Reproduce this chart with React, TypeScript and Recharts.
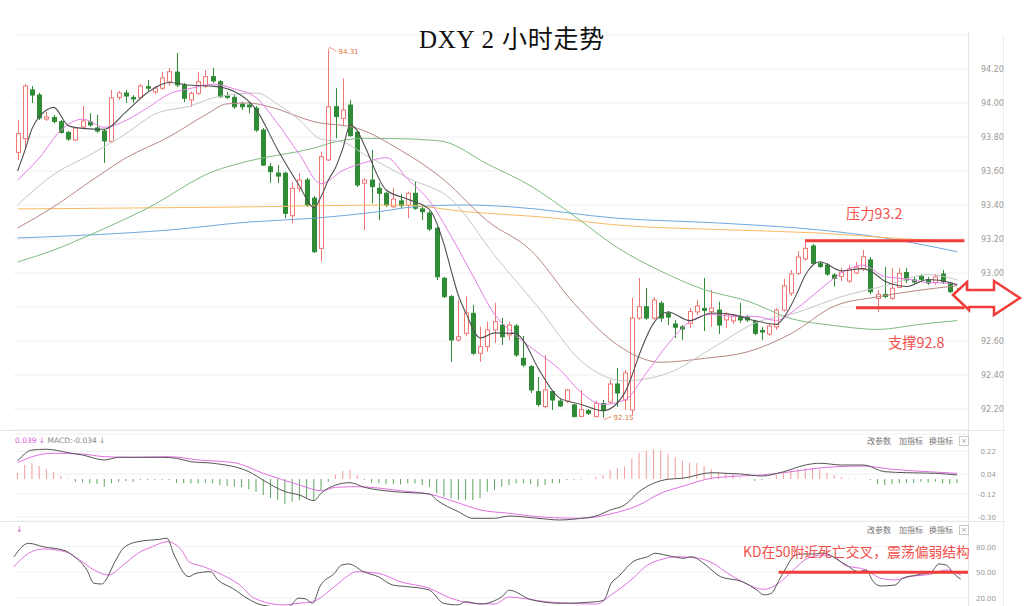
import { Bar, CartesianGrid, Cell, ComposedChart, Line, ReferenceLine, XAxis, YAxis } from 'recharts';

const UP = '#f07674';
const DOWN = '#2f8b36';
const MARK_RED = '#f03c3a';
const NOTE_RED = '#f2504c';

// [open, high, low, close] for each 2-hour bar
const candles = [
  [93.71, 93.9, 93.665, 93.82], [93.79, 94.11, 93.73, 94.1], [94.077, 94.1, 94.0, 94.047], [94.047, 94.06, 93.9, 93.912],
  [93.906, 93.947, 93.894, 93.918], [93.915, 93.93, 93.88, 93.891], [93.89, 93.9, 93.82, 93.827], [93.827, 93.835, 93.777, 93.788],
  [93.782, 93.859, 93.776, 93.853], [93.859, 93.982, 93.847, 93.894], [93.888, 93.94, 93.86, 93.871], [93.853, 93.93, 93.824, 93.835],
  [93.835, 93.847, 93.647, 93.777], [93.773, 94.077, 93.765, 94.03], [94.033, 94.071, 94.018, 94.059], [94.059, 94.077, 94.0, 94.041],
  [94.033, 94.047, 94.0, 94.024], [94.033, 94.112, 94.024, 94.1], [94.096, 94.135, 94.067, 94.087], [94.065, 94.1, 94.053, 94.088],
  [94.087, 94.182, 94.077, 94.147], [94.124, 94.206, 94.1, 94.184], [94.182, 94.294, 94.094, 94.106], [94.106, 94.118, 94.006, 94.028],
  [94.018, 94.067, 93.977, 94.057], [94.057, 94.184, 94.047, 94.125], [94.1, 94.194, 94.088, 94.155], [94.155, 94.206, 94.118, 94.13],
  [94.125, 94.135, 94.03, 94.037], [94.041, 94.065, 94.024, 94.033], [94.033, 94.047, 93.965, 93.978], [93.994, 94.008, 93.959, 93.978],
  [93.988, 94.006, 93.94, 93.977], [93.969, 93.982, 93.83, 93.841], [93.841, 93.853, 93.63, 93.635], [93.625, 93.647, 93.53, 93.596],
  [93.588, 93.635, 93.53, 93.57], [93.587, 93.596, 93.322, 93.351], [93.337, 93.537, 93.293, 93.498], [93.498, 93.588, 93.478, 93.547],
  [93.547, 93.559, 93.388, 93.4], [93.44, 93.453, 93.118, 93.125], [93.145, 93.714, 93.067, 93.684], [93.665, 94.31, 93.66, 93.978],
  [93.978, 94.087, 93.792, 93.92], [93.91, 94.145, 93.871, 93.959], [93.988, 94.018, 93.802, 93.808], [93.828, 93.841, 93.506, 93.518],
  [93.528, 93.557, 93.253, 93.547], [93.547, 93.724, 93.41, 93.508], [93.498, 93.53, 93.312, 93.469], [93.469, 93.478, 93.388, 93.4],
  [93.39, 93.5, 93.382, 93.435], [93.424, 93.465, 93.382, 93.396], [93.4, 93.478, 93.322, 93.469], [93.469, 93.537, 93.371, 93.381],
  [93.377, 93.39, 93.312, 93.361], [93.353, 93.365, 93.247, 93.259], [93.263, 93.273, 92.959, 92.978], [92.969, 92.977, 92.853, 92.861],
  [92.861, 92.871, 92.478, 92.606], [92.606, 92.841, 92.596, 92.625], [92.645, 92.861, 92.63, 92.765], [92.763, 92.812, 92.518, 92.528],
  [92.528, 92.684, 92.478, 92.567], [92.567, 92.714, 92.537, 92.665], [92.665, 92.824, 92.588, 92.714], [92.694, 92.735, 92.577, 92.625],
  [92.636, 92.712, 92.606, 92.694], [92.688, 92.7, 92.506, 92.518], [92.498, 92.63, 92.447, 92.459], [92.449, 92.459, 92.294, 92.312],
  [92.302, 92.388, 92.214, 92.227], [92.214, 92.518, 92.204, 92.312], [92.302, 92.312, 92.194, 92.253], [92.247, 92.259, 92.212, 92.218],
  [92.247, 92.318, 92.235, 92.312], [92.224, 92.23, 92.155, 92.155], [92.157, 92.312, 92.152, 92.196], [92.19, 92.2, 92.165, 92.175],
  [92.155, 92.247, 92.153, 92.234], [92.232, 92.253, 92.15, 92.19], [92.241, 92.371, 92.23, 92.347], [92.347, 92.441, 92.212, 92.294],
  [92.253, 92.43, 92.194, 92.412], [92.194, 92.853, 92.16, 92.735], [92.735, 92.971, 92.724, 92.802], [92.802, 92.912, 92.724, 92.735],
  [92.735, 92.859, 92.724, 92.841], [92.822, 92.835, 92.712, 92.735], [92.763, 92.777, 92.694, 92.741], [92.7, 92.724, 92.618, 92.681],
  [92.683, 92.694, 92.606, 92.671], [92.704, 92.794, 92.677, 92.773], [92.771, 92.841, 92.753, 92.806], [92.791, 92.971, 92.659, 92.78],
  [92.773, 92.9, 92.683, 92.794], [92.782, 92.831, 92.641, 92.694], [92.724, 92.771, 92.677, 92.759], [92.718, 92.759, 92.7, 92.747],
  [92.741, 92.824, 92.706, 92.724], [92.741, 92.753, 92.712, 92.724], [92.714, 92.724, 92.635, 92.645], [92.662, 92.682, 92.606, 92.653],
  [92.641, 92.7, 92.63, 92.688], [92.683, 92.794, 92.665, 92.782], [92.782, 92.965, 92.772, 92.924], [92.881, 93.018, 92.865, 92.994],
  [92.998, 93.129, 92.988, 93.094], [93.083, 93.2, 93.071, 93.145], [93.159, 93.171, 93.047, 93.057], [93.057, 93.065, 93.03, 93.038],
  [93.047, 93.059, 92.982, 92.994], [92.988, 93.0, 92.92, 92.969], [92.98, 93.03, 92.953, 93.006], [92.953, 93.047, 92.941, 93.024],
  [93.0, 93.065, 92.994, 93.035], [93.024, 93.135, 93.012, 93.096], [93.077, 93.094, 92.876, 92.89], [92.85, 92.9, 92.771, 92.874],
  [92.874, 93.035, 92.851, 92.862], [92.851, 93.028, 92.841, 92.91], [92.915, 93.03, 92.912, 92.998], [93.003, 93.03, 92.941, 92.959],
  [92.959, 92.977, 92.93, 92.947], [92.98, 92.994, 92.947, 92.963], [92.959, 92.977, 92.93, 92.941], [92.944, 92.994, 92.93, 92.977],
  [92.994, 93.018, 92.935, 92.949], [92.94, 92.949, 92.882, 92.89], [92.89, 92.91, 92.86, 92.875],
];

// moving averages: [bar index, value]
const ma5 = [
  [0, 93.6], [1, 93.72], [2, 93.85], [3, 93.92], [4, 93.959], [5, 93.974], [7, 93.867], [9, 93.851], [12, 93.846], [15, 93.948],
  [18, 94.062], [21, 94.121], [24, 94.104], [27, 94.099], [30, 94.067], [33, 93.961], [36, 93.724], [39, 93.512], [41, 93.384],
  [42, 93.451], [43, 93.547], [44, 93.621], [45, 93.733], [46, 93.87], [47, 93.837], [48, 93.75], [51, 93.488], [54, 93.434],
  [57, 93.373], [59, 93.168], [60, 93.013], [61, 92.866], [62, 92.767], [64, 92.618], [66, 92.648], [69, 92.643], [70, 92.602],
  [72, 92.442], [75, 92.264], [78, 92.227], [81, 92.19], [84, 92.295], [85, 92.396], [86, 92.518], [88, 92.705], [90, 92.771],
  [93, 92.72], [96, 92.765], [99, 92.755], [102, 92.72], [105, 92.698], [106, 92.738], [107, 92.808], [108, 92.896], [109, 92.988],
  [111, 93.066], [114, 93.013], [117, 93.026], [118, 93.01], [119, 92.984], [120, 92.951], [123, 92.921], [126, 92.962],
  [129, 92.944], [130, 92.93],
];
const ma10 = [
  [0, 93.547], [3, 93.677], [6, 93.84], [9, 93.905], [12, 93.857], [15, 93.898], [18, 93.972], [21, 94.054], [24, 94.086],
  [27, 94.111], [30, 94.083], [33, 94.031], [36, 93.878], [39, 93.697], [42, 93.525], [45, 93.603], [48, 93.649], [51, 93.679],
  [54, 93.551], [57, 93.423], [60, 93.215], [63, 92.983], [66, 92.757], [69, 92.631], [72, 92.531], [75, 92.433], [78, 92.296],
  [81, 92.227], [84, 92.253], [87, 92.412], [90, 92.583], [93, 92.713], [96, 92.756], [99, 92.745], [102, 92.745], [105, 92.721],
  [108, 92.798], [111, 92.902], [114, 93.0], [117, 93.046], [120, 92.979], [123, 92.965], [126, 92.944], [129, 92.94], [130, 92.935],
];
const ma20 = [
  [0, 93.4], [5, 93.58], [10, 93.694], [15, 93.82], [19, 93.935], [24, 93.984], [27, 94.03], [30, 94.051], [33, 94.059],
  [36, 93.993], [39, 93.899], [42, 93.787], [45, 93.77], [48, 93.697], [54, 93.559], [60, 93.433], [66, 93.103], [72, 92.8],
  [78, 92.481], [84, 92.366], [90, 92.411], [96, 92.555], [102, 92.705], [108, 92.77], [114, 92.861], [120, 92.925],
  [126, 92.99], [130, 92.96],
];
const ma30 = [
  [0, 93.265], [5, 93.39], [10, 93.537], [15, 93.677], [21, 93.802], [26, 93.93], [29, 93.995], [32, 94.0], [35, 93.976],
  [41, 93.89], [47, 93.851], [53, 93.722], [59, 93.548], [65, 93.306], [71, 93.134], [77, 92.821], [83, 92.577], [89, 92.475],
  [95, 92.498], [101, 92.536], [107, 92.643], [113, 92.805], [119, 92.86], [125, 92.9], [130, 92.925],
];
const ma60 = [
  [0, 93.065], [5, 93.135], [10, 93.224], [18, 93.382], [27, 93.596], [32, 93.659], [41, 93.735], [44, 93.772], [48, 93.792],
  [53, 93.79], [57, 93.782], [59, 93.773], [65, 93.641], [71, 93.512], [77, 93.336], [83, 93.149], [89, 93.011], [95, 92.902],
  [101, 92.835], [107, 92.732], [113, 92.691], [119, 92.668], [125, 92.699], [130, 92.72],
];
const ma120 = [
  [0, 93.377], [30, 93.388], [53, 93.4], [62, 93.361], [74, 93.324], [83, 93.282], [99, 93.253], [111, 93.235], [123, 93.2],
  [130, 93.185],
];
const ma250 = [
  [0, 93.206], [10, 93.224], [21, 93.253], [32, 93.3], [41, 93.322], [50, 93.361], [55, 93.39], [62, 93.4], [68, 93.39],
  [83, 93.322], [97, 93.294], [111, 93.253], [120, 93.206], [130, 93.125],
];

// MACD histogram, one value per bar
const macdHist = [
  0.05, 0.111, 0.124, 0.103, 0.077, 0.058, 0.024, 0.005, -0.021, -0.026,
  -0.034, -0.04, -0.061, -0.034, -0.021, -0.016, -0.021, -0.008, -0.008, -0.005,
  -0.005, -0.008, -0.029, -0.034, -0.034, -0.034, -0.029, -0.034, -0.048, -0.056,
  -0.061, -0.066, -0.082, -0.101, -0.127, -0.153, -0.167, -0.198, -0.18, -0.167,
  -0.153, -0.172, -0.087, -0.021, 0.032, 0.066, 0.071, 0.032, -0.008, -0.029,
  -0.034, -0.042, -0.042, -0.042, -0.034, -0.034, -0.048, -0.061, -0.114, -0.14,
  -0.153, -0.167, -0.167, -0.167, -0.153, -0.101, -0.087, -0.061, -0.048, -0.034,
  -0.034, -0.04, -0.061, -0.048, -0.034, -0.034, -0.008, -0.005, -0.003, 0.003,
  0.019, 0.032, 0.071, 0.085, 0.098, 0.164, 0.209, 0.225, 0.235, 0.225,
  0.198, 0.172, 0.146, 0.13, 0.124, 0.103, 0.077, 0.058, 0.045, 0.04,
  0.011, 0.005, -0.013, -0.008, 0.003, 0.032, 0.05, 0.066, 0.077, 0.085,
  0.085, 0.077, 0.05, 0.032, 0.013, 0.005, 0.003, 0.0, -0.008, -0.04,
  -0.048, -0.04, -0.034, -0.029, -0.029, -0.021, -0.029, -0.021, -0.034, -0.04,
  -0.034,
];
const dif = [
  [0, 0.143], [2, 0.23], [4, 0.236], [7, 0.209], [9, 0.19], [12, 0.151], [14, 0.172], [20, 0.172], [22, 0.164], [24, 0.137],
  [27, 0.125], [32, 0.058], [34, -0.01], [37, -0.1], [39, -0.127], [41, -0.172], [42, -0.113], [44, -0.048], [46, -0.029],
  [48, -0.066], [52, -0.1], [57, -0.119], [58, -0.167], [61, -0.26], [63, -0.312], [66, -0.312], [68, -0.294], [72, -0.312],
  [75, -0.325], [78, -0.312], [80, -0.294], [82, -0.246], [84, -0.206], [86, -0.1], [88, -0.034], [90, -0.002], [92, 0.006],
  [96, 0.05], [98, 0.045], [100, 0.04], [103, 0.024], [106, 0.058], [109, 0.111], [111, 0.125], [114, 0.111], [117, 0.111],
  [120, 0.058], [123, 0.05], [127, 0.045], [130, 0.032],
];
const dea = [
  [0, 0.129], [2, 0.177], [5, 0.204], [9, 0.198], [12, 0.177], [16, 0.172], [21, 0.177], [25, 0.151], [30, 0.129], [34, 0.045],
  [39, -0.048], [42, -0.093], [44, -0.066], [47, -0.061], [53, -0.093], [57, -0.12], [61, -0.19], [64, -0.245], [68, -0.272],
  [73, -0.304], [78, -0.312], [82, -0.278], [86, -0.206], [89, -0.113], [92, -0.058], [96, 0.006], [100, 0.024], [103, 0.032],
  [107, 0.058], [112, 0.093], [117, 0.103], [121, 0.077], [126, 0.058], [130, 0.045],
];
const kLine = [
  [0, 68.2], [2, 83.9], [4, 79.9], [7, 75.3], [8, 70.2], [10, 52.7], [11, 37.1], [12, 36.3], [14, 64.4], [15, 78.1], [17, 85.8],
  [20, 88.6], [21, 89.8], [22, 70.2], [24, 44.9], [25, 48.8], [27, 50.7], [28, 41], [30, 31.3], [32, 19.6], [34, 11.8], [37, 9],
  [38, 11], [39, 19.6], [40, 19], [41, 13.7], [42, 33.2], [44, 48.8], [45, 58.5], [46, 59.7], [48, 50.7], [50, 44.9], [52, 35.1],
  [54, 33.2], [57, 29.3], [59, 13.7], [61, 11.8], [62, 15.6], [64, 12.9], [67, 21.5], [68, 29], [71, 18], [75, 13.7], [80, 15.6],
  [81, 17.6], [82, 37.1], [83, 44.9], [85, 62.4], [87, 68.2], [88, 72.2], [90, 69.1], [92, 66.4], [93, 68.2], [95, 58.5],
  [97, 44.9], [100, 39], [102, 29.3], [103, 23.5], [104, 25.4], [105, 40], [106, 55], [107, 68.2], [108, 71.4], [110, 71.4],
  [111, 72.5], [114, 60], [116, 50.7], [117, 52.7], [118, 39], [119, 34], [121, 35.1], [122, 43], [124, 46.8], [126, 50.7],
  [127, 59.7], [128, 58.5], [129, 48.8], [130, 41.8],
];
const dLine = [
  [0, 56.6], [2, 72.2], [4, 77.2], [7, 74.1], [9, 64.4], [11, 52.7], [13, 46.8], [15, 58.5], [17, 72.2], [19, 79.9], [21, 85.8],
  [23, 76.1], [24, 62.4], [26, 56.6], [28, 49.5], [31, 35.1], [33, 19.6], [37, 11.8], [39, 13.7], [41, 15.6], [44, 33.2],
  [46, 46.8], [47, 50.7], [50, 48.8], [53, 39], [57, 31.3], [60, 19.6], [63, 13.7], [66, 12.9], [68, 21], [73, 15.6], [80, 12.9],
  [82, 23.5], [85, 43], [87, 58.5], [89, 65.2], [91, 68.2], [94, 66.4], [96, 60.5], [98, 48.8], [100, 39], [103, 30.1],
  [105, 37.1], [107, 52.7], [109, 66.4], [111, 70.2], [113, 66.4], [114, 58.5], [117, 52.7], [119, 43], [121, 41], [123, 44.9],
  [126, 48], [128, 52.7], [130, 46.8],
];

const priceTicks = [94.4, 94.2, 94.0, 93.8, 93.6, 93.4, 93.2, 93.0, 92.8, 92.6, 92.4, 92.2];
const hiddenPriceLabels = [94.4, 92.8]; // grid lines only, no label shown in the source
const macdTicks = [0.22, 0.04, -0.12, -0.3];
const kdTicks = [80, 50, 20];

const SLOTS = 132; // one empty slot after the last bar
const rows: any[] = Array.from({ length: SLOTS }, (_, i) => ({ idx: i }));
candles.forEach(([o, h, l, c], i) => {
  Object.assign(rows[i], { open: o, high: h, low: l, close: c, range: [l, h] });
});
macdHist.forEach((v, i) => { rows[i].hist = v; });
const put = (key: string, pairs: number[][]) => pairs.forEach(([i, v]) => { rows[i][key] = v; });
put('ma5', ma5); put('ma10', ma10); put('ma20', ma20); put('ma30', ma30);
put('ma60', ma60); put('ma120', ma120); put('ma250', ma250);
put('dif', dif); put('dea', dea); put('k', kLine); put('d', dLine);

const HIGH_IDX = candles.reduce((b, c, i) => (c[1] > candles[b][1] ? i : b), 0);
const LOW_IDX = candles.reduce((b, c, i) => (c[2] < candles[b][2] ? i : b), 0);

const MARGIN_LEFT = 14;
const AXIS_W = 56;

function Candle(props: any) {
  const { x, y, width, height, payload } = props;
  if (!payload || payload.open == null) return null;
  const { open, high, low, close } = payload;
  const top = Math.min(y, y + height);
  const span = Math.abs(height);
  const k = span / Math.max(high - low, 1e-6);
  const py = (v: number) => top + (high - v) * k;
  const up = close >= open;
  const color = up ? UP : DOWN;
  const cx = Math.round(x + width / 2) + 0.5;
  const bTop = py(Math.max(open, close));
  const bBot = py(Math.min(open, close));
  return (
    <g>
      <line x1={cx} x2={cx} y1={top} y2={top + span} stroke={color} strokeWidth={1} />
      <rect x={cx - 2} y={bTop} width={4} height={Math.max(bBot - bTop, 1)} fill={up ? '#fff' : color} stroke={color} strokeWidth={1} />
      {payload.idx === HIGH_IDX && (
        <g>
          <polyline points={`${cx},${top} ${cx + 1},${top - 3} ${cx + 8},${top + 1}`} fill="none" stroke="#e8845c" strokeWidth={0.8} />
          <text x={cx + 10} y={top + 4} fontSize={7} fill="#e0763e" fontFamily="DejaVu Sans">{high.toFixed(2)}</text>
        </g>
      )}
      {payload.idx === LOW_IDX && (
        <g>
          <polyline points={`${cx},${top + span} ${cx + 1},${top + span + 2} ${cx + 8},${top + span - 1}`} fill="none" stroke="#e8845c" strokeWidth={0.8} />
          <text x={cx + 10} y={top + span + 2} fontSize={7} fill="#e0763e" fontFamily="DejaVu Sans">{low.toFixed(2)}</text>
        </g>
      )}
    </g>
  );
}

function PriceTick(props: any) {
  const { x, y, payload } = props;
  if (hiddenPriceLabels.includes(payload.value)) return null;
  return (
    <text x={x} y={y} dy={3} fontSize={8} fill="#9a9a9a" fontFamily="DejaVu Sans" textAnchor="start">
      {payload.value.toFixed(2)}
    </text>
  );
}

function SubTick(props: any) {
  const { x, y, payload } = props;
  return (
    <text x={x} y={y} dy={3} fontSize={7} fill="#9a9a9a" fontFamily="DejaVu Sans" textAnchor="end">
      {payload.value.toFixed(2)}
    </text>
  );
}

const maLine = (key: string, color: string, w = 1) => (
  <Line key={key} type="monotone" dataKey={key} stroke={color} strokeWidth={w} dot={false} activeDot={false}
    connectNulls isAnimationActive={false} />
);

function PanelTools({ top }: { top: number }) {
  const s = { position: 'absolute' as const, top, fontSize: 8, color: '#777', fontFamily: '"Noto Sans CJK SC"', lineHeight: '10px' };
  return (
    <>
      <div style={{ ...s, left: 867 }}>改参数</div>
      <div style={{ ...s, left: 899 }}>加指标</div>
      <div style={{ ...s, left: 929 }}>换指标</div>
      <div style={{ ...s, left: 959, width: 8, height: 8, border: '1px solid #c8c8c8', fontSize: 7, lineHeight: '8px', textAlign: 'center', color: '#999', fontFamily: 'DejaVu Sans' }}>×</div>
    </>
  );
}

export default function App() {
  const note = { position: 'absolute' as const, fontSize: 14.3, color: NOTE_RED, fontFamily: '"Noto Sans CJK SC"', lineHeight: '15px', whiteSpace: 'nowrap' as const };
  return (
    <div style={{ position: 'absolute', left: 0, top: 0, width: 1024, height: 606, overflow: 'hidden', background: '#fff' }}>
      {/* frame lines */}
      <div style={{ position: 'absolute', left: 968, top: 33, width: 1, height: 573, background: '#e6e6e6' }} />
      <div style={{ position: 'absolute', left: 1003, top: 35, width: 1, height: 571, background: '#ececec' }} />
      <div style={{ position: 'absolute', left: 0, top: 430, width: 1003, height: 1, background: '#e4e4e4' }} />
      <div style={{ position: 'absolute', left: 0, top: 521, width: 1003, height: 1, background: '#e4e4e4' }} />

      <div style={{ position: 'absolute', left: 0, top: 0 }}>
        <ComposedChart width={1024} height={430} data={rows} margin={{ top: 35, right: 0, bottom: 0, left: MARGIN_LEFT }}>
          <CartesianGrid horizontal vertical={false} stroke="#efefef" />
          <XAxis dataKey="idx" hide />
          <YAxis orientation="right" width={AXIS_W} type="number" domain={[92.0765, 94.4]} allowDataOverflow interval={0}
            ticks={priceTicks} tick={<PriceTick />} tickSize={0} tickMargin={13} axisLine={false} tickLine={false} />
          {maLine('ma250', '#6fa9dd')}
          {maLine('ma120', '#f7bb63')}
          {maLine('ma60', '#80bb80')}
          {maLine('ma30', '#b88683')}
          {maLine('ma20', '#c6c6c6')}
          <Bar dataKey="range" barSize={5} isAnimationActive={false} shape={(p: any) => <Candle {...p} />} />
          {maLine('ma10', '#e47ee4')}
          {maLine('ma5', '#505050', 1.1)}
          <ReferenceLine segment={[{ x: 109, y: 93.19 }, { x: 131, y: 93.19 }]} stroke={MARK_RED} strokeWidth={3} />
          <ReferenceLine segment={[{ x: 116, y: 92.795 }, { x: 131, y: 92.795 }]} stroke={MARK_RED} strokeWidth={3} />
        </ComposedChart>
      </div>

      <div style={{ position: 'absolute', left: 0, top: 430 }}>
        <ComposedChart width={1024} height={91} data={rows} margin={{ top: 4, right: 0, bottom: 0, left: MARGIN_LEFT }}>
          <CartesianGrid horizontal vertical={false} stroke="#f0f0f0" />
          <XAxis dataKey="idx" hide />
          <YAxis orientation="right" width={AXIS_W} type="number" domain={[-0.3333, 0.3571]} allowDataOverflow interval={0}
            ticks={macdTicks} tick={<SubTick />} tickSize={0} tickMargin={28} axisLine={false} tickLine={false} />
          <Bar dataKey="hist" barSize={1} isAnimationActive={false}>
            {rows.map((r, i) => (
              <Cell key={i} fill={(r.hist ?? 0) >= 0 ? '#f39a9a' : '#5ea55e'} />
            ))}
          </Bar>
          {maLine('dea', '#e070e0')}
          {maLine('dif', '#555555')}
        </ComposedChart>
      </div>

      <div style={{ position: 'absolute', left: 0, top: 521 }}>
        <ComposedChart width={1024} height={94} data={rows} margin={{ top: 0, right: 0, bottom: 0, left: MARGIN_LEFT }}>
          <CartesianGrid horizontal vertical={false} stroke="#f0f0f0" />
          <XAxis dataKey="idx" hide />
          <YAxis orientation="right" width={AXIS_W} type="number" domain={[0, 110]} allowDataOverflow interval={0}
            ticks={kdTicks} tick={<SubTick />} tickSize={0} tickMargin={28} axisLine={false} tickLine={false} />
          {maLine('d', '#e070e0')}
          {maLine('k', '#555555')}
          <ReferenceLine segment={[{ x: 105, y: 50 }, { x: 131, y: 50 }]} stroke={MARK_RED} strokeWidth={3} />
        </ComposedChart>
      </div>

      {/* title and panel headers */}
      <div style={{ position: 'absolute', left: 0, top: 26, width: 1024, textAlign: 'center', fontSize: 25, letterSpacing: 0.8, lineHeight: '28px', color: '#111', fontFamily: '"Liberation Serif", "Noto Sans CJK SC"' }}>
        DXY 2 小时走势
      </div>
      <div style={{ position: 'absolute', left: 15, top: 436, fontSize: 7.5, lineHeight: '10px', fontFamily: 'DejaVu Sans', whiteSpace: 'nowrap' }}>
        <span style={{ color: '#d85ad8' }}>0.039 ↓ </span>
        <span style={{ color: '#888' }}>MACD:-0.034 ↓</span>
      </div>
      <div style={{ position: 'absolute', left: 16, top: 525, fontSize: 8, lineHeight: '10px', color: '#d85ad8', fontFamily: 'DejaVu Sans' }}>↓</div>
      <PanelTools top={436} />
      <PanelTools top={525} />

      {/* annotations */}
      <div style={{ ...note, left: 846, top: 205 }}>压力93.2</div>
      <div style={{ ...note, left: 888, top: 334 }}>支撑92.8</div>
      <div style={{ ...note, left: 743, top: 544, fontSize: 13.8 }}>KD在50附近死亡交叉，震荡偏弱结构</div>

      <svg width={1024} height={606} style={{ position: 'absolute', left: 0, top: 0, pointerEvents: 'none' }}>
        <polygon
          points="953,295 967,282 967,290 994,290 994,281 1020,298 994,315 994,307 969,307 969,310"
          fill="#fff" stroke={MARK_RED} strokeWidth={2.5} strokeLinejoin="miter" />
      </svg>
    </div>
  );
}
